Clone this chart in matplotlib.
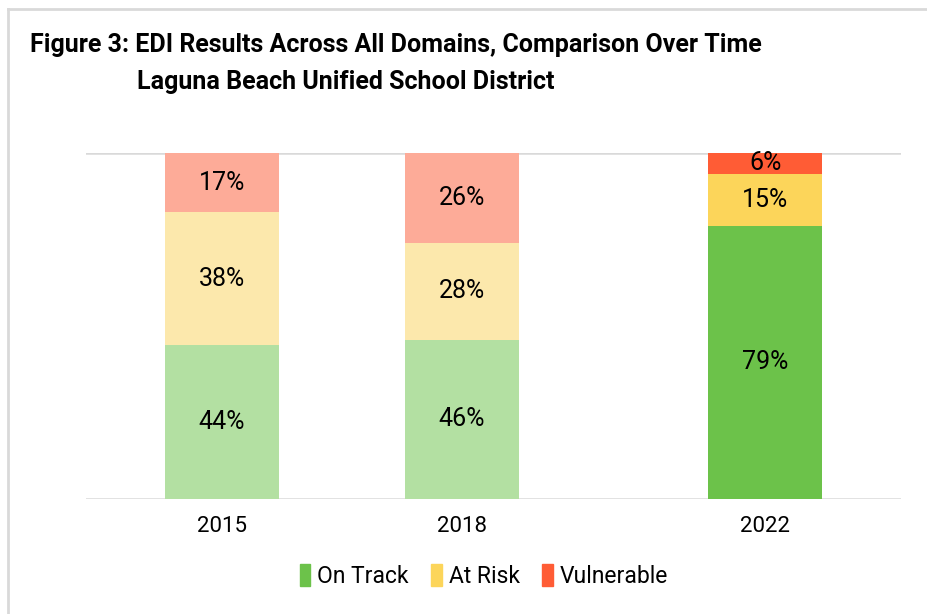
import numpy as np
import matplotlib.pyplot as plt
from matplotlib.patches import Rectangle

years = ['2015', '2018', '2022']
on_track = [44, 46, 79]
at_risk = [38, 28, 15]
vulnerable = [17, 26, 6]

series_names = ['On Track', 'At Risk', 'Vulnerable']
dark = ['#6cc24a', '#fcd55a', '#ff5c35']
light = ['#b3e0a2', '#fce8ac', '#fdab98']

plt.rcParams['font.family'] = ['Roboto', 'DejaVu Sans']

fig = plt.figure(figsize=(9.27, 6.14), dpi=100)
ax = fig.add_axes([0.0928, 0.1873, 0.8792, 0.5635])

# x positions of the three bars (2018 sits a bit left of centre in the original)
xpos = np.array([0, 0.884, 2])
data = np.array([on_track, at_risk, vulnerable], dtype=float)
pct = data / data.sum(axis=0) * 100

bottom = np.zeros(3)
for i in range(3):
    cols = [light[i], light[i], dark[i]]
    ax.bar(xpos, pct[i], 0.42, bottom=bottom, color=cols, zorder=2)
    for j in range(3):
        ax.text(xpos[j], bottom[j] + pct[i][j] / 2, f'{int(data[i][j])}%',
                ha='center', va='center', fontsize=18, color='black', zorder=3)
    bottom += pct[i]

ax.set_xlim(-0.5, 2.5)
ax.set_ylim(0, 100)
for y in [0, 100]:
    ax.axhline(y, color='#d9d9d9', lw=1.8, zorder=1)
for s in ax.spines.values():
    s.set_visible(False)
ax.set_yticks([])
ax.set_xticks(xpos)
ax.set_xticklabels(years, fontsize=16)
ax.tick_params(axis='x', length=0, pad=12)

handles = [Rectangle((0, 0), 1, 1, color=c) for c in dark]
fig.legend(handles, series_names, loc='center', bbox_to_anchor=(0.522, 0.062),
           ncol=3, frameon=False, fontsize=16.5, handlelength=0.45, handleheight=1.1,
           handletextpad=0.3, columnspacing=1.0)

fig.text(0.032, 0.927, 'Figure 3: EDI Results Across All Domains, Comparison Over Time',
         fontsize=18, fontweight='bold', ha='left', va='center')
fig.text(0.148, 0.866, 'Laguna Beach Unified School District',
         fontsize=18, fontweight='bold', ha='left', va='center')

# outer frame (top and left edges visible)
fig.add_artist(plt.Line2D([0.0086, 1.0], [0.985, 0.985], color='#d9d9d9', lw=2))
fig.add_artist(plt.Line2D([0.0086, 0.0086], [0.0, 0.985], color='#d9d9d9', lw=2))

fig.savefig('out.png', dpi=100)
